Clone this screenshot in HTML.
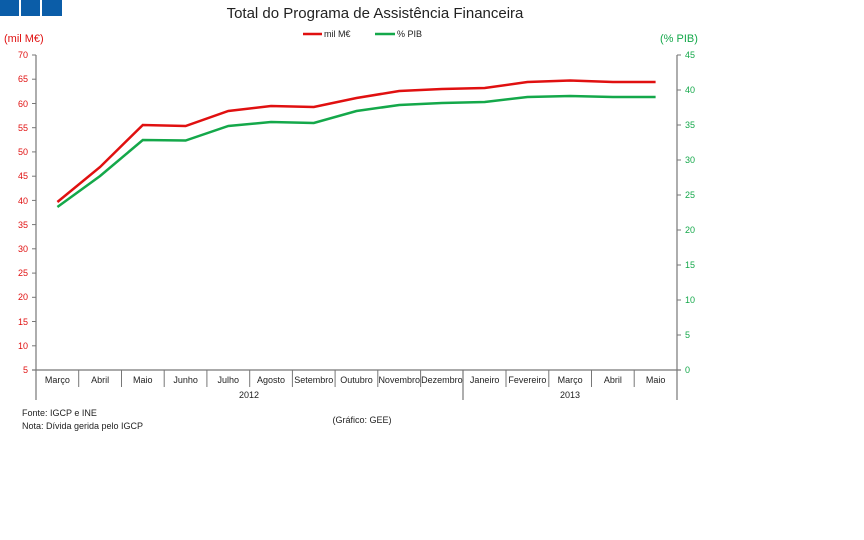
<!DOCTYPE html><html><head><meta charset="utf-8"><style>body{margin:0;background:#fff}svg{display:block}text{font-family:"Liberation Sans",Arial,sans-serif}</style></head><body>
<svg width="864" height="540" xmlns="http://www.w3.org/2000/svg">
<rect x="0" y="0" width="19" height="16" fill="#0b5da8"/><rect x="21" y="0" width="19" height="16" fill="#0b5da8"/><rect x="42" y="0" width="20" height="16" fill="#0b5da8"/>
<text x="375" y="18" font-size="15" text-anchor="middle" fill="#222">Total do Programa de Assistência Financeira</text>
<line x1="303" y1="34" x2="322" y2="34" stroke="#e01010" stroke-width="2.5"/><text x="324" y="37" font-size="9" fill="#222">mil M€</text>
<line x1="375" y1="34" x2="395" y2="34" stroke="#14a84a" stroke-width="2.5"/><text x="397" y="37" font-size="9" fill="#222">% PIB</text>
<text x="4" y="42" font-size="11" fill="#e01010">(mil M€)</text>
<text x="660" y="42" font-size="11" fill="#14a84a">(% PIB)</text>
<g stroke="#777" stroke-width="1.2">
<line x1="36" y1="55" x2="36" y2="400"/><line x1="677" y1="55" x2="677" y2="400"/><line x1="32" y1="370" x2="681" y2="370"/>
<line x1="463" y1="370" x2="463" y2="400"/>
</g>
<g stroke="#777" stroke-width="1">
<line x1="32" y1="55" x2="36" y2="55"/><line x1="32" y1="79.2" x2="36" y2="79.2"/><line x1="32" y1="103.5" x2="36" y2="103.5"/><line x1="32" y1="127.7" x2="36" y2="127.7"/><line x1="32" y1="151.9" x2="36" y2="151.9"/><line x1="32" y1="176.2" x2="36" y2="176.2"/><line x1="32" y1="200.4" x2="36" y2="200.4"/><line x1="32" y1="224.6" x2="36" y2="224.6"/><line x1="32" y1="248.8" x2="36" y2="248.8"/><line x1="32" y1="273.1" x2="36" y2="273.1"/><line x1="32" y1="297.3" x2="36" y2="297.3"/><line x1="32" y1="321.5" x2="36" y2="321.5"/><line x1="32" y1="345.8" x2="36" y2="345.8"/>
<line x1="677" y1="55" x2="681" y2="55"/><line x1="677" y1="90" x2="681" y2="90"/><line x1="677" y1="125" x2="681" y2="125"/><line x1="677" y1="160" x2="681" y2="160"/><line x1="677" y1="195" x2="681" y2="195"/><line x1="677" y1="230" x2="681" y2="230"/><line x1="677" y1="265" x2="681" y2="265"/><line x1="677" y1="300" x2="681" y2="300"/><line x1="677" y1="335" x2="681" y2="335"/>
<line x1="78.7" y1="370" x2="78.7" y2="387"/><line x1="121.5" y1="370" x2="121.5" y2="387"/><line x1="164.2" y1="370" x2="164.2" y2="387"/><line x1="206.9" y1="370" x2="206.9" y2="387"/><line x1="249.7" y1="370" x2="249.7" y2="387"/><line x1="292.4" y1="370" x2="292.4" y2="387"/><line x1="335.1" y1="370" x2="335.1" y2="387"/><line x1="377.8" y1="370" x2="377.8" y2="387"/><line x1="420.6" y1="370" x2="420.6" y2="387"/><line x1="506" y1="370" x2="506" y2="387"/><line x1="548.8" y1="370" x2="548.8" y2="387"/><line x1="591.5" y1="370" x2="591.5" y2="387"/><line x1="634.2" y1="370" x2="634.2" y2="387"/>
</g>
<g font-size="9" fill="#e01010" text-anchor="end">
<text x="28" y="58">70</text><text x="28" y="82">65</text><text x="28" y="107">60</text><text x="28" y="131">55</text><text x="28" y="155">50</text><text x="28" y="179">45</text><text x="28" y="204">40</text><text x="28" y="228">35</text><text x="28" y="252">30</text><text x="28" y="276">25</text><text x="28" y="300">20</text><text x="28" y="325">15</text><text x="28" y="349">10</text><text x="28" y="373">5</text>
</g>
<g font-size="9" fill="#14a84a">
<text x="685" y="58">45</text><text x="685" y="93">40</text><text x="685" y="128">35</text><text x="685" y="163">30</text><text x="685" y="198">25</text><text x="685" y="233">20</text><text x="685" y="268">15</text><text x="685" y="303">10</text><text x="685" y="338">5</text><text x="685" y="373">0</text>
</g>
<g font-size="9" fill="#222" text-anchor="middle">
<text x="57.4" y="383">Março</text><text x="100.1" y="383">Abril</text><text x="142.8" y="383">Maio</text><text x="185.6" y="383">Junho</text><text x="228.3" y="383">Julho</text><text x="271" y="383">Agosto</text><text x="313.8" y="383">Setembro</text><text x="356.5" y="383">Outubro</text><text x="399.2" y="383">Novembro</text><text x="441.9" y="383">Dezembro</text><text x="484.7" y="383">Janeiro</text><text x="527.4" y="383">Fevereiro</text><text x="570.1" y="383">Março</text><text x="612.9" y="383">Abril</text><text x="655.6" y="383">Maio</text>
<text x="249" y="398">2012</text><text x="570" y="398">2013</text>
<text x="362" y="423">(Gráfico: GEE)</text>
</g>
<text x="22" y="416" font-size="9" fill="#222">Fonte: IGCP e INE</text>
<text x="22" y="429" font-size="9" fill="#222">Nota: Dívida gerida pelo IGCP</text>
<polyline fill="none" stroke="#14a84a" stroke-width="2.5" points="57.4,207 100.1,176 142.8,140 185.6,140.5 228.3,126 271,122 313.8,123 356.5,111 399.2,105 441.9,103 484.7,102 527.4,97 570.1,96 612.9,97 655.6,97"/>
<polyline fill="none" stroke="#e01010" stroke-width="2.5" points="57.4,202 100.1,167 142.8,125 185.6,126 228.3,111 271,106 313.8,107 356.5,98 399.2,91 441.9,89 484.7,88 527.4,82 570.1,80.5 612.9,82 655.6,82"/>
</svg></body></html>
